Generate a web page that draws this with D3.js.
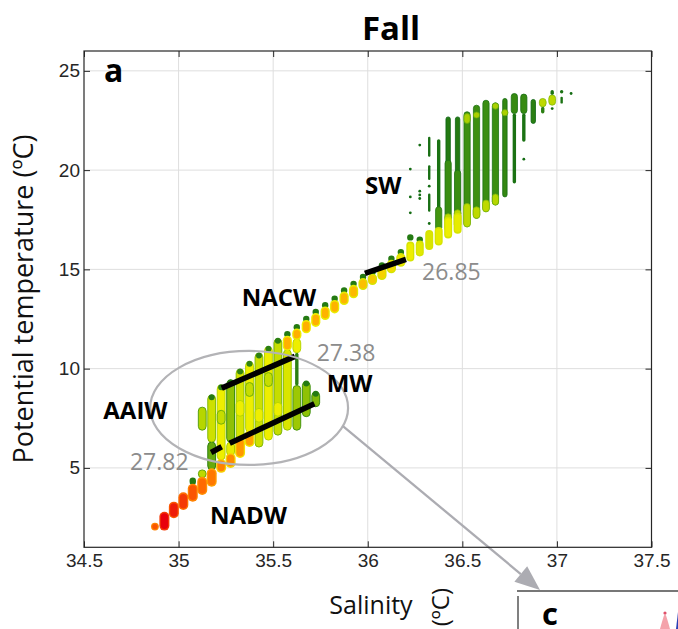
<!DOCTYPE html>
<html><head><meta charset="utf-8">
<script src="https://cdn.jsdelivr.net/npm/d3@7"></script>
<style>body{margin:0;background:#fff;} svg{display:block;}</style>
</head><body><svg id="chart" width="678" height="629"></svg>
<script>
// ---------------- DATA ----------------
const salinityBins = [34.875, 34.925, 34.975, 35.025, 35.075, 35.125, 35.175, 35.225, 35.275, 35.325,
  35.375, 35.425, 35.475, 35.525, 35.575, 35.625, 35.675, 35.725, 35.775, 35.825,
  35.875, 35.925, 35.975, 36.025, 36.075, 36.125, 36.175, 36.225, 36.275, 36.325,
  36.375, 36.425, 36.475, 36.525, 36.575, 36.625, 36.675, 36.725, 36.775, 36.825,
  36.875, 36.925, 36.975, 37.025, 37.075];

// main T-S chain: [bin, Tlow, Thigh, colourValue]
const chain = [
  [0, 1.87, 2.22, 0.12], [1, 1.84, 2.79, 0.0], [2, 2.46, 3.30, 0.04], [3, 2.88, 3.77, 0.08],
  [4, 3.30, 4.20, 0.12], [5, 3.63, 4.55, 0.15], [6, 4.05, 4.98, 0.18], [7, 4.75, 5.45, 0.2],
  [8, 5.0, 5.75, 0.22], [9, 5.5, 6.55, 0.25], [10, 6.05, 6.9, 0.27],
  [14, 10.9, 11.75, 0.3], [15, 11.44, 12.19, 0.3], [16, 11.78, 12.61, 0.3], [17, 12.1, 12.95, 0.3],
  [18, 12.45, 13.29, 0.31], [19, 12.78, 13.62, 0.31], [20, 13.2, 14.04, 0.32], [21, 13.54, 14.37, 0.33],
  [22, 13.96, 14.71, 0.35], [23, 14.21, 14.95, 0.38], [24, 14.46, 15.3, 0.41], [25, 14.8, 15.63, 0.44],
  [26, 15.13, 15.97, 0.47], [27, 15.4, 16.4, 0.5], [28, 15.65, 16.6, 0.53], [29, 15.97, 16.98, 0.55],
  [30, 16.2, 17.14, 0.52], [31, 16.56, 17.65, 0.5], [32, 16.8, 17.84, 0.52]
];

// dark caps on top of chain points: [bin, Tlow, Thigh]
const chainTips = [
  [4, 4.14, 4.52], [14, 11.6, 11.86], [15, 11.95, 12.22], [16, 12.35, 12.65], [17, 12.7, 13.0],
  [18, 13.05, 13.33], [19, 13.38, 13.66], [20, 13.8, 14.08], [21, 14.12, 14.42], [22, 14.47, 14.76],
  [23, 14.72, 14.98], [24, 15.05, 15.35], [25, 15.4, 15.68], [26, 15.72, 16.02], [27, 16.5, 16.72],
  [28, 16.35, 16.65]
];

// AAIW / MW columns: [bin, Tlow, Thigh, colourValue, kind]
const clusterColumns = [
  [5, 4.5, 4.9, 0.62, "col"], [5, 6.9, 8.06, 0.64, "col"],
  [6, 4.9, 6.3, 0.76, "col"], [6, 6.3, 8.67, 0.58, "col"],
  [7, 5.4, 9.17, 0.5, "col"], [7, 7.2, 7.9, 0.6, "col"],
  [8, 5.6, 6.3, 0.52, "col"], [8, 6.3, 9.42, 0.7, "col"],
  [9, 6.4, 9.97, 0.56, "col"], [9, 7.6, 8.4, 0.5, "col"],
  [10, 6.8, 10.35, 0.5, "col"], [10, 8.6, 9.3, 0.6, "col"],
  [11, 6.05, 10.78, 0.58, "col"], [11, 7.3, 8.0, 0.5, "col"],
  [12, 6.4, 11.1, 0.5, "col"], [12, 9.1, 9.8, 0.6, "col"],
  [13, 6.65, 11.5, 0.6, "col"], [13, 7.6, 8.3, 0.5, "col"],
  [14, 6.9, 10.95, 0.55, "col"],
  [15, 6.9, 9.15, 0.68, "col"], [15, 9.15, 10.8, 0.9, "bead"], [15, 10.8, 11.5, 0.5, "col"],
  [16, 7.58, 9.34, 0.7, "col"], [17, 8.08, 8.83, 0.72, "col"],
  [6, 8.45, 8.67, 0.92, "cap"], [7, 8.95, 9.17, 0.9, "cap"], [8, 9.2, 9.42, 0.92, "cap"],
  [9, 9.75, 9.97, 0.88, "cap"], [10, 10.15, 10.35, 0.88, "cap"], [11, 10.55, 10.78, 0.9, "cap"],
  [12, 10.9, 11.1, 0.9, "cap"], [13, 11.3, 11.5, 0.9, "cap"], [16, 9.15, 9.34, 0.92, "cap"],
  [17, 8.65, 8.83, 0.92, "cap"]
];

// SW columns: [bin, Tlow, Thigh, colourValue, kind]
const swColumns = [
  [29, 20.67, 21.68, 0.96, "thin"], [29, 19.5, 20.25, 0.96, "thin"], [29, 17.9, 18.82, 0.96, "thin"],
  [30, 17.14, 21.56, 0.95, "bead"], [30, 16.95, 18.15, 0.82, "core"],
  [31, 17.6, 22.68, 0.92, "stem"], [31, 17.3, 20.5, 0.85, "core"], [31, 16.9, 17.8, 0.62, "band"],
  [32, 17.65, 22.68, 0.92, "stem"], [32, 17.65, 20.0, 0.85, "core"], [32, 17.1, 18.0, 0.62, "band"],
  [33, 17.14, 22.94, 0.84, "core"], [33, 22.35, 22.85, 0.66, "core"], [33, 17.14, 18.32, 0.62, "band"],
  [34, 17.57, 23.27, 0.84, "core"], [34, 22.65, 22.9, 0.66, "core"], [34, 17.57, 18.15, 0.62, "band"],
  [35, 17.9, 23.52, 0.85, "core"], [35, 17.9, 18.49, 0.62, "band"],
  [36, 18.24, 23.39, 0.85, "core"], [36, 23.1, 23.35, 0.66, "core"], [36, 18.24, 18.8, 0.64, "core"],
  [37, 18.65, 23.61, 0.87, "stem"], [37, 22.77, 23.02, 0.66, "core"],
  [38, 19.33, 22.85, 0.95, "bead"], [38, 22.85, 23.86, 0.86, "core"],
  [39, 21.43, 22.85, 0.95, "bead"], [39, 22.85, 23.83, 0.86, "core"],
  [40, 22.35, 23.56, 0.9, "stem"],
  [41, 22.85, 23.19, 0.9, "bead"], [41, 23.19, 23.61, 0.62, "band"],
  [42, 23.78, 24.03, 0.95, "bead"], [42, 23.27, 23.78, 0.62, "band"],
  [43, 23.86, 24.03, 0.95, "bead"], [43, 23.35, 23.7, 0.95, "thin"]
];

// isolated small points: [bin, T]
const smallDots = [[27, 20.05], [27, 18.65], [27, 17.85], [28, 21.26], [28, 18.94], [28, 18.75],
  [28, 18.57], [29, 19.19], [29, 17.31], [39, 20.55], [42, 23.1], [44, 23.86]];

// isopycnal segments [S1, T1, S2, T2]
const isopycnals = [
  [35.985, 14.8, 36.202, 15.5],
  [35.228, 9.02, 35.615, 10.62],
  [35.172, 5.78, 35.228, 6.06],
  [35.27, 6.24, 35.718, 8.23]
];
const isoLabels = [["26.85", 36.287, 14.46], ["27.38", 35.73, 10.4], ["27.82", 34.743, 4.89]];
const waterMassLabels = [["SW", 35.985, 18.82], ["NACW", 35.334, 13.15], ["MW", 35.783, 8.8],
  ["AAIW", 34.602, 7.46], ["NADW", 35.166, 2.16]];
const ellipseSpec = {S: 35.373, T: 8.02, rS: 0.523, rT: 2.87};

const xTickValues = [34.5, 35, 35.5, 36, 36.5, 37, 37.5];
const xTickLabels = ["34.5", "35", "35.5", "36", "36.5", "37", "37.5"];
const yTickValues = [5, 10, 15, 20, 25];
const yTickLabels = ["5", "10", "15", "20", "25"];

// ---------------- DRAWING ----------------
const svg = d3.select("#chart");
const x = d3.scaleLinear().domain([34.5, 37.5]).range([84, 651.5]);
const y = d3.scaleLinear().domain([1, 26]).range([547.3, 51]);
const color = d3.scaleLinear()
  .domain([0, 0.15, 0.3, 0.5, 0.65, 0.8, 1])
  .range(["#e8000c", "#ff6a00", "#ffb000", "#eeee00", "#b2d400", "#4a9a10", "#0b6414"])
  .clamp(true);
const widthOf = {col: 7.8, cap: 6, bead: 3.4, thin: 2.4, stem: 4.4, core: 6.2, band: 6.8};
const sx = k => x(salinityBins[k]);

// grid
const grid = svg.append("g").attr("stroke", "#dedede").attr("stroke-width", 1);
grid.selectAll("line.gx").data(xTickValues.slice(1, -1)).join("line")
  .attr("x1", d => x(d)).attr("x2", d => x(d)).attr("y1", y(1)).attr("y2", y(26));
grid.selectAll("line.gy").data(yTickValues).join("line")
  .attr("y1", d => y(d)).attr("y2", d => y(d)).attr("x1", x(34.5)).attr("x2", x(37.5));

function capsules(g, rows, wFn, fillFn, strokeFn, sw) {
  g.selectAll("rect").data(rows).join("rect")
    .attr("x", d => sx(d[0]) - wFn(d) / 2)
    .attr("width", d => wFn(d))
    .attr("y", d => { const h = y(d[1]) - y(d[2]); const w = wFn(d);
      return h < w ? (y(d[1]) + y(d[2])) / 2 - w / 2 : y(d[2]); })
    .attr("height", d => Math.max(wFn(d), y(d[1]) - y(d[2])))
    .attr("rx", d => wFn(d) / 2)
    .attr("fill", fillFn)
    .attr("stroke", strokeFn)
    .attr("stroke-width", sw);
}

const marks = svg.append("g");
capsules(marks.append("g"), clusterColumns, d => widthOf[d[4]], d => color(d[3]),
  d => d[4] === "col" ? color(Math.min(1, d[3] + 0.14)) : "none", 1);
capsules(marks.append("g"), swColumns, d => widthOf[d[4]], d => color(d[3]),
  d => d[4] === "thin" || d[4] === "bead" ? "none" : color(Math.min(1, d[3] + 0.1)), 0.8);
marks.append("g").selectAll("circle").data(smallDots).join("circle")
  .attr("cx", d => sx(d[0])).attr("cy", d => y(d[1])).attr("r", 1.4).attr("fill", color(0.97));
capsules(marks.append("g"), chainTips, () => 6.4, () => color(0.92), () => "none", 0);
const tipTop = new Map(chainTips.map(d => [d[0], d[2]]));
const chainRows = chain.map(d => tipTop.has(d[0]) ? [d[0], d[1], Math.min(d[2], tipTop.get(d[0]) - 0.2), d[3]] : d);
const chainW = d => d[0] <= 10 ? (d[0] === 0 ? 7.8 : 10) : (d[0] >= 27 ? 8 : 9.2);
capsules(marks.append("g"), chainRows, chainW,
  d => color(d[3] < 0.2 ? d[3] + 0.08 : Math.min(0.56, d[3] + 0.2)), () => "none", 0);
capsules(marks.append("g"), chainRows.map(d => [d[0], d[1] + 0.08, d[2] - 0.08, d[3]]),
  d => chainW(d) - 2.6, d => color(d[3]), () => "none", 0);

// isopycnal lines
svg.append("g").selectAll("line").data(isopycnals).join("line")
  .attr("x1", d => x(d[0])).attr("y1", d => y(d[1])).attr("x2", d => x(d[2])).attr("y2", d => y(d[3]))
  .attr("stroke", "#000").attr("stroke-width", 5.6).attr("stroke-linecap", "butt");

// ellipse + arrow
const ecx = x(ellipseSpec.S), ecy = y(ellipseSpec.T);
const erx = x(ellipseSpec.S + ellipseSpec.rS) - ecx, ery = y(ellipseSpec.T - ellipseSpec.rT) - ecy;
svg.append("ellipse").attr("cx", ecx).attr("cy", ecy).attr("rx", erx).attr("ry", ery)
  .attr("fill", "none").attr("stroke", "#b3b3b6").attr("stroke-width", 2.2);
const th = Math.atan2(0.32, 0.95);
const ax0 = ecx + erx * Math.cos(th), ay0 = ecy + ery * Math.sin(th);
const ax1 = 540, ay1 = 590;
const ang = Math.atan2(ay1 - ay0, ax1 - ax0), hl = 25, hw = 10;
const bx = ax1 - hl * Math.cos(ang), by = ay1 - hl * Math.sin(ang);
svg.append("line").attr("x1", ax0).attr("y1", ay0).attr("x2", bx).attr("y2", by)
  .attr("stroke", "#acacb2").attr("stroke-width", 2.3);
svg.append("path").attr("fill", "#acacb2")
  .attr("d", `M${ax1},${ay1}L${bx - hw * Math.sin(ang)},${by + hw * Math.cos(ang)}L${bx + hw * Math.sin(ang)},${by - hw * Math.cos(ang)}Z`);

// frame + axes
const axisColor = "#262626";
const styleAxis = g => { g.select(".domain").remove();
  g.selectAll(".tick line").attr("stroke", axisColor);
  g.selectAll(".tick text").attr("fill", axisColor).attr("font-family", "'Liberation Sans', Arial, sans-serif").attr("font-size", 19); };
svg.append("g").attr("transform", `translate(0,${y(1)})`)
  .call(d3.axisBottom(x).tickValues(xTickValues).tickFormat((d, i) => xTickLabels[i]).tickSizeInner(-6).tickSizeOuter(0).tickPadding(6))
  .call(styleAxis);
svg.append("g").attr("transform", `translate(0,${y(26)})`)
  .call(d3.axisTop(x).tickValues(xTickValues).tickFormat("").tickSizeInner(-6).tickSizeOuter(0)).call(styleAxis);
svg.append("g").attr("transform", `translate(${x(34.5)},0)`)
  .call(d3.axisLeft(y).tickValues(yTickValues).tickFormat((d, i) => yTickLabels[i]).tickSizeInner(-6).tickSizeOuter(0).tickPadding(4))
  .call(styleAxis);
svg.append("g").attr("transform", `translate(${x(37.5)},0)`)
  .call(d3.axisRight(y).tickValues(yTickValues).tickFormat("").tickSizeInner(-6).tickSizeOuter(0)).call(styleAxis);
svg.append("rect").attr("x", x(34.5)).attr("y", y(26)).attr("width", x(37.5) - x(34.5)).attr("height", y(1) - y(26))
  .attr("fill", "none").attr("stroke", axisColor).attr("stroke-width", 1.2);

// texts
const sans = "'Open Sans', 'Noto Sans', sans-serif";
svg.append("g").selectAll("text").data(waterMassLabels).join("text")
  .attr("x", d => x(d[1])).attr("y", d => y(d[2])).text(d => d[0])
  .attr("font-family", sans).attr("font-weight", 700).attr("font-size", 24).attr("fill", "#000");
svg.append("g").selectAll("text").data(isoLabels).join("text")
  .attr("x", d => x(d[1])).attr("y", d => y(d[2])).text(d => d[0])
  .attr("font-family", sans).attr("font-size", 23).attr("fill", "#8c8c8c");
svg.append("text").attr("x", 391).attr("y", 40).attr("text-anchor", "middle").text("Fall")
  .attr("font-family", sans).attr("font-weight", 700).attr("font-size", 33);
svg.append("text").attr("x", 104).attr("y", 81.5).text("a")
  .attr("font-family", sans).attr("font-weight", 700).attr("font-size", 32);
svg.append("text").attr("x", 371).attr("y", 614).attr("text-anchor", "middle").text("Salinity")
  .attr("font-family", sans).attr("font-size", 25).attr("fill", "#111");
svg.append("text").attr("transform", `translate(33,299) rotate(-90)`).attr("text-anchor", "middle")
  .text("Potential temperature (ºC)").attr("font-family", sans).attr("font-size", 27).attr("fill", "#111");

// neighbouring panel c fragment
svg.append("text").attr("transform", `translate(449,588) rotate(-90)`).attr("text-anchor", "end")
  .text("(ºC)").attr("font-family", sans).attr("font-size", 24).attr("fill", "#111");
svg.append("line").attr("x1", 517).attr("x2", 678).attr("y1", 591).attr("y2", 591).attr("stroke", "#4a4a4a").attr("stroke-width", 1.6);
svg.append("line").attr("x1", 518).attr("x2", 518).attr("y1", 596).attr("y2", 629).attr("stroke", "#4a4a4a").attr("stroke-width", 1.4);
svg.append("text").attr("x", 542).attr("y", 625).text("c")
  .attr("font-family", sans).attr("font-weight", 700).attr("font-size", 31);
svg.append("path").attr("d", "M660,629 Q664,614 665,614 Q666,614 670,629 Z").attr("fill", "#f4a3ab");
svg.append("circle").attr("cx", 665).attr("cy", 613).attr("r", 1.6).attr("fill", "#e0506a");
svg.append("path").attr("d", "M676,629 L678,612 L678,629 Z").attr("fill", "#2a3fb5");
</script></body></html>
